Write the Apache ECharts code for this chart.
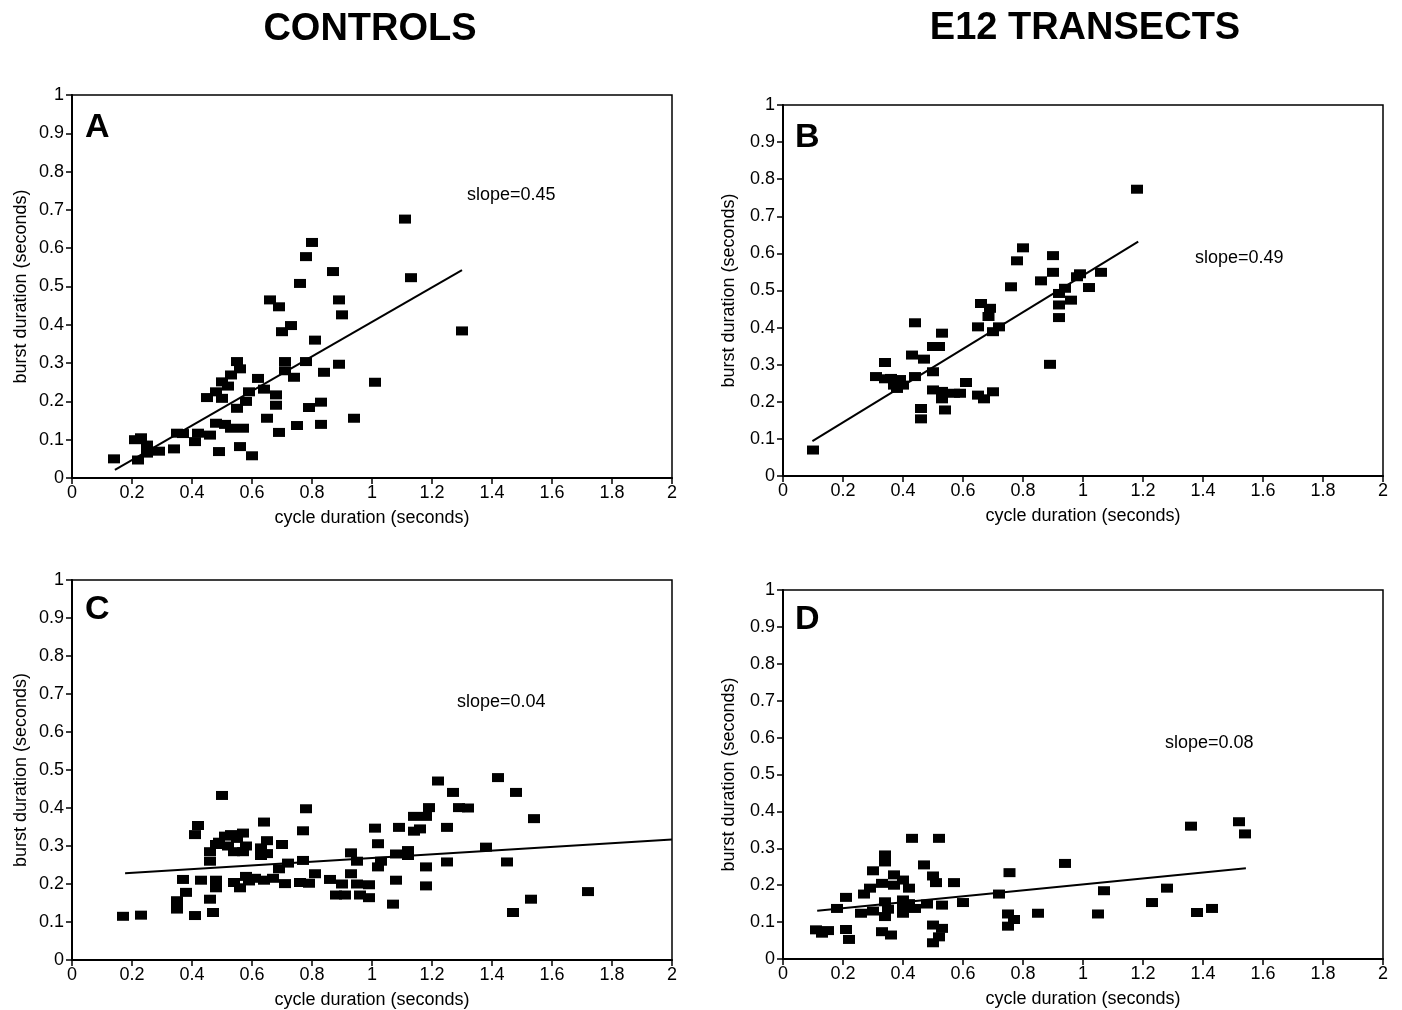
<!DOCTYPE html>
<html>
<head>
<meta charset="utf-8">
<title>burst vs cycle duration</title>
<script src="https://cdn.jsdelivr.net/npm/echarts@6/dist/echarts.min.js"></script>
<style>
  html, body { margin: 0; padding: 0; background: #fff; }
  #chart { width: 1402px; height: 1010px; }
</style>
</head>
<body>
<div id="chart"></div>
<script>
// cycle duration (s), burst duration (s)
const pointsA = [
  [0.14, 0.05], [0.21, 0.10], [0.22, 0.047], [0.23, 0.105], [0.25, 0.086], [0.25, 0.065],
  [0.29, 0.07], [0.34, 0.076], [0.35, 0.117], [0.37, 0.116], [0.41, 0.095], [0.42, 0.117],
  [0.45, 0.21], [0.46, 0.112], [0.48, 0.225], [0.49, 0.069], [0.48, 0.143], [0.50, 0.251],
  [0.50, 0.208], [0.52, 0.24], [0.53, 0.269], [0.51, 0.14], [0.53, 0.13], [0.55, 0.304],
  [0.56, 0.285], [0.57, 0.13], [0.56, 0.082], [0.55, 0.182], [0.58, 0.20], [0.59, 0.225],
  [0.60, 0.058], [0.62, 0.26], [0.64, 0.232], [0.65, 0.156], [0.66, 0.465], [0.68, 0.217],
  [0.68, 0.19], [0.69, 0.447], [0.69, 0.119], [0.70, 0.382], [0.73, 0.398], [0.71, 0.304],
  [0.71, 0.28], [0.74, 0.263], [0.75, 0.137], [0.76, 0.508], [0.78, 0.304], [0.78, 0.578],
  [0.80, 0.615], [0.79, 0.184], [0.81, 0.36], [0.83, 0.198], [0.84, 0.276], [0.83, 0.14],
  [0.87, 0.539], [0.89, 0.465], [0.89, 0.297], [0.90, 0.426], [0.94, 0.156], [1.01, 0.25],
  [1.11, 0.676], [1.13, 0.523], [1.30, 0.384]
]
const pointsB = [
  [0.10, 0.07], [0.31, 0.268], [0.34, 0.306], [0.34, 0.262], [0.36, 0.263], [0.37, 0.245],
  [0.38, 0.236], [0.39, 0.26], [0.40, 0.245], [0.44, 0.413], [0.43, 0.326], [0.44, 0.268],
  [0.47, 0.315], [0.46, 0.182], [0.46, 0.154], [0.50, 0.349], [0.50, 0.281], [0.50, 0.232],
  [0.52, 0.349], [0.53, 0.385], [0.53, 0.228], [0.53, 0.208], [0.54, 0.178], [0.57, 0.223],
  [0.59, 0.223], [0.61, 0.252], [0.65, 0.402], [0.65, 0.218], [0.66, 0.465], [0.67, 0.208],
  [0.69, 0.452], [0.685, 0.43], [0.70, 0.227], [0.70, 0.389], [0.72, 0.402], [0.76, 0.51],
  [0.78, 0.58], [0.80, 0.615], [0.86, 0.526], [0.89, 0.301], [0.90, 0.594], [0.90, 0.549],
  [0.92, 0.492], [0.92, 0.461], [0.92, 0.427], [0.94, 0.506], [0.96, 0.474], [0.98, 0.537],
  [0.99, 0.545], [1.02, 0.508], [1.06, 0.549], [1.18, 0.773]
]
const pointsC = [
  [0.17, 0.115], [0.23, 0.118], [0.35, 0.156], [0.35, 0.134], [0.37, 0.212], [0.38, 0.178],
  [0.41, 0.33], [0.42, 0.354], [0.41, 0.117], [0.43, 0.21], [0.46, 0.16], [0.47, 0.125],
  [0.46, 0.26], [0.46, 0.285], [0.48, 0.21], [0.48, 0.19], [0.50, 0.433], [0.48, 0.304],
  [0.49, 0.31], [0.51, 0.326], [0.52, 0.30], [0.53, 0.33], [0.54, 0.285], [0.55, 0.32],
  [0.57, 0.334], [0.57, 0.285], [0.54, 0.204], [0.56, 0.19], [0.58, 0.22], [0.59, 0.208],
  [0.58, 0.30], [0.61, 0.215], [0.63, 0.295], [0.63, 0.275], [0.65, 0.314], [0.65, 0.28],
  [0.64, 0.363], [0.64, 0.21], [0.67, 0.215], [0.70, 0.304], [0.69, 0.24], [0.71, 0.201],
  [0.72, 0.255], [0.76, 0.204], [0.77, 0.262], [0.77, 0.34], [0.78, 0.398], [0.79, 0.202],
  [0.81, 0.227], [0.86, 0.212], [0.88, 0.171], [0.90, 0.20], [0.91, 0.171], [0.93, 0.282],
  [0.93, 0.227], [0.95, 0.20], [0.95, 0.26], [0.96, 0.171], [0.99, 0.198], [0.99, 0.164],
  [1.01, 0.347], [1.02, 0.306], [1.03, 0.26], [1.02, 0.245], [1.07, 0.147], [1.08, 0.21],
  [1.08, 0.279], [1.09, 0.349], [1.12, 0.288], [1.12, 0.275], [1.14, 0.378], [1.14, 0.339],
  [1.16, 0.345], [1.18, 0.378], [1.19, 0.401], [1.18, 0.245], [1.18, 0.195], [1.22, 0.471],
  [1.25, 0.349], [1.25, 0.258], [1.27, 0.441], [1.29, 0.401], [1.32, 0.40], [1.38, 0.297],
  [1.42, 0.48], [1.45, 0.258], [1.47, 0.125], [1.48, 0.441], [1.53, 0.16], [1.54, 0.372],
  [1.72, 0.18]
]
const pointsD = [
  [0.11, 0.079], [0.13, 0.07], [0.15, 0.077], [0.18, 0.137], [0.21, 0.167], [0.21, 0.08],
  [0.22, 0.053], [0.26, 0.124], [0.27, 0.176], [0.30, 0.13], [0.29, 0.192], [0.30, 0.239],
  [0.33, 0.074], [0.34, 0.282], [0.34, 0.263], [0.33, 0.205], [0.34, 0.155], [0.34, 0.115],
  [0.35, 0.135], [0.36, 0.065], [0.37, 0.228], [0.37, 0.20], [0.40, 0.214], [0.40, 0.16],
  [0.40, 0.137], [0.40, 0.124], [0.42, 0.192], [0.43, 0.327], [0.42, 0.15], [0.44, 0.137],
  [0.47, 0.255], [0.48, 0.149], [0.50, 0.225], [0.50, 0.092], [0.50, 0.044], [0.51, 0.207],
  [0.52, 0.327], [0.53, 0.083], [0.52, 0.06], [0.53, 0.146], [0.57, 0.207], [0.60, 0.153],
  [0.72, 0.176], [0.75, 0.122], [0.755, 0.234], [0.75, 0.089], [0.77, 0.107], [0.85, 0.124],
  [0.94, 0.259], [1.07, 0.185], [1.05, 0.122], [1.23, 0.153], [1.28, 0.192], [1.36, 0.36],
  [1.38, 0.126], [1.43, 0.137], [1.52, 0.372], [1.54, 0.339]
]

// end points of the regression lines
const fitA = [[0.143, 0.021], [1.30, 0.543]]
const fitB = [[0.098, 0.094], [1.184, 0.632]]
const fitC = [[0.177, 0.228], [2.0, 0.317]]
const fitD = [[0.114, 0.131], [1.543, 0.246]]

const slopes = ['slope=0.45', 'slope=0.49', 'slope=0.04', 'slope=0.08']
const letters = ['A', 'B', 'C', 'D']
const headings = ['CONTROLS', 'E12 TRANSECTS']
const xName = 'cycle duration (seconds)'
const yName = 'burst duration (seconds)'

const font = 'Liberation Sans, Arial, Helvetica, sans-serif'

const grids = [
  { left: 72, top: 95, width: 600, height: 383 },
  { left: 783, top: 105, width: 600, height: 371 },
  { left: 72, top: 580, width: 600, height: 383 },
  { left: 783, top: 590, width: 600, height: 369 }
]
const letterPos = [[85, 111], [795, 121], [85, 593], [795, 603]]
const slopePos = [[467, 186], [1195, 249], [457, 693], [1165, 734]]

const axisCommon = {
    axisLine: { lineStyle: { color: '#000', width: 2 } },
    axisTick: { inside: false, length: 6, lineStyle: { color: '#000', width: 1.5 } },
    axisLabel: { color: '#000', fontSize: 18, fontFamily: font },
    splitLine: { show: false },
    nameTextStyle: { color: '#000', fontSize: 18, fontFamily: font }
}

const allPoints = [pointsA, pointsB, pointsC, pointsD]
const allFits = [fitA, fitB, fitC, fitD]

const chart = echarts.init(document.getElementById('chart'))

const option = {
    backgroundColor: '#fff',
    animation: false,
    title: [
        { text: headings[0], left: 370, top: 11, textAlign: 'center', padding: 0,
          textStyle: { fontSize: 38, fontWeight: 'bold', color: '#000', fontFamily: font } },
        { text: headings[1], left: 1085, top: 10, textAlign: 'center', padding: 0,
          textStyle: { fontSize: 38, fontWeight: 'bold', color: '#000', fontFamily: font } }
    ].concat(letters.map((l, i) => ({
        text: l, left: letterPos[i][0], top: letterPos[i][1], padding: 0,
        textStyle: { fontSize: 34, fontWeight: 'bold', color: '#000', fontFamily: font }
    }))).concat(slopes.map((s, i) => ({
        text: s, left: slopePos[i][0], top: slopePos[i][1], padding: 0,
        textStyle: { fontSize: 18, fontWeight: 'normal', color: '#000', fontFamily: font }
    }))),
    grid: grids.map(g => Object.assign({ show: true, borderColor: '#000', borderWidth: 1.5,
        backgroundColor: 'transparent' }, g)),
    xAxis: grids.map((g, i) => Object.assign({}, axisCommon, {
        type: 'value', gridIndex: i, min: 0, max: 2, interval: 0.2,
        name: xName, nameLocation: 'middle', nameGap: 31,
        axisLabel: Object.assign({}, axisCommon.axisLabel, { margin: 6 })
    })),
    yAxis: grids.map((g, i) => Object.assign({}, axisCommon, {
        type: 'value', gridIndex: i, min: 0, max: 1, interval: 0.1,
        name: yName, nameLocation: 'middle', nameGap: i % 2 ? 45 : 42,
        axisLabel: Object.assign({}, axisCommon.axisLabel, { margin: 8 })
    })),
    series: []
}

allPoints.forEach((pts, i) => {
    option.series.push({
        type: 'line', xAxisIndex: i, yAxisIndex: i, data: allFits[i],
        symbol: 'none', silent: true, z: 2,
        lineStyle: { color: '#000', width: 2 }
    })
    option.series.push({
        type: 'scatter', xAxisIndex: i, yAxisIndex: i, data: pts,
        symbol: 'rect', symbolSize: [12, 9], z: 3,
        itemStyle: { color: '#000', opacity: 1 }
    })
})

chart.setOption(option)
</script>
</body>
</html>
